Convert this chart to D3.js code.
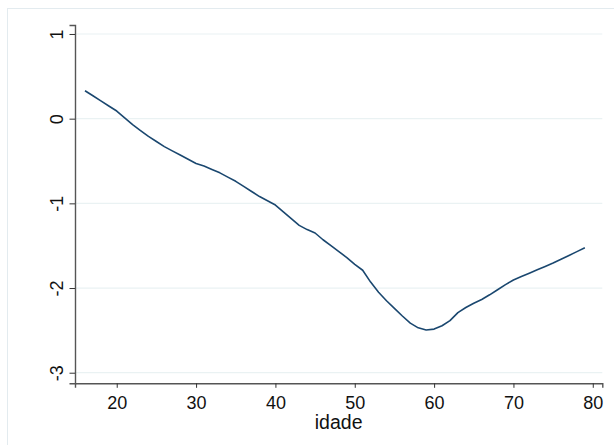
<!DOCTYPE html>
<html>
<head>
<meta charset="utf-8">
<script src="https://cdn.jsdelivr.net/npm/d3@7"></script>
<style>
  html, body { margin: 0; padding: 0; background: #fff; }
  svg { display: block; }
  text { font-family: "Liberation Sans", Arial, sans-serif; fill: #111; }
</style>
</head>
<body>
<svg id="chart" width="614" height="445"></svg>
<script>
const ages = [16,17,18,19,20,21,22,23,24,25,26,27,28,29,30,31,32,33,34,35,36,37,38,39,40,
  41,42,43,44,45,46,47,48,49,50,51,52,53,54,55,56,57,58,59,60,61,62,63,64,65,66,67,68,69,70,
  71,72,73,74,75,76,77,78,79];
const values = [0.33,0.27,0.21,0.15,0.09,0.01,-0.07,-0.14,-0.21,-0.27,-0.33,-0.38,-0.43,-0.48,-0.53,
  -0.56,-0.60,-0.64,-0.69,-0.74,-0.80,-0.86,-0.92,-0.97,-1.02,
  -1.10,-1.18,-1.26,-1.31,-1.35,-1.43,-1.50,-1.57,-1.64,-1.72,
  -1.79,-1.93,-2.05,-2.15,-2.24,-2.33,-2.415,-2.47,-2.495,-2.485,
  -2.445,-2.385,-2.29,-2.23,-2.18,-2.135,-2.08,-2.02,-1.96,-1.905,
  -1.865,-1.825,-1.785,-1.745,-1.705,-1.66,-1.615,-1.57,-1.525];
const xTicks = [20,30,40,50,60,70,80];
const yTicks = [-3,-2,-1,0,1];
const xTitle = "idade";

const svg = d3.select("#chart");

// outer frame
svg.append("rect").attr("x", 7.5).attr("y", 8.5).attr("width", 640).attr("height", 480)
  .attr("fill", "none").attr("stroke", "#e3ebef").attr("stroke-width", 1);

const mLeft = 75, mRight = 602.3, mTop = 25, mBottom = 383.3;
const x = d3.scaleLinear().domain([14.74, 81.2]).range([mLeft, mRight]);
const y = d3.scaleLinear().domain([-3.125, 1.106]).range([mBottom, mTop]);
const fmt = d => String(d);

// gridlines
svg.append("g").selectAll("line").data(yTicks).join("line")
  .attr("x1", mLeft).attr("x2", mRight)
  .attr("y1", d => y(d)).attr("y2", d => y(d))
  .attr("stroke", "#eaf2f3").attr("stroke-width", 1.2);

// x axis
const xAxis = svg.append("g").attr("transform", `translate(0,${mBottom})`)
  .call(d3.axisBottom(x).tickValues(xTicks).tickSize(4.5).tickPadding(8).tickFormat(fmt));
xAxis.select(".domain").attr("stroke", "#555").attr("stroke-width", 1.4);
xAxis.selectAll(".tick line").attr("stroke", "#333").attr("stroke-width", 1);
xAxis.selectAll(".tick text").attr("font-size", 18).attr("fill", "#111")
  .attr("font-family", "Liberation Sans, Arial, sans-serif");

// y axis
const yAxis = svg.append("g").attr("transform", `translate(${mLeft},0)`)
  .call(d3.axisLeft(y).tickValues(yTicks).tickSize(5.5).tickFormat(fmt));
yAxis.select(".domain").attr("stroke", "#555").attr("stroke-width", 1.4);
yAxis.selectAll(".tick line").attr("stroke", "#333").attr("stroke-width", 1);
yAxis.selectAll(".tick text")
  .attr("font-size", 18).attr("fill", "#111")
  .attr("font-family", "Liberation Sans, Arial, sans-serif")
  .attr("text-anchor", "middle").attr("dy", null).attr("x", null)
  .attr("transform", "translate(-12,0) rotate(-90)");

// x title
svg.append("text").attr("x", (mLeft + mRight) / 2).attr("y", 429.3)
  .attr("text-anchor", "middle").attr("font-size", 19.5).text(xTitle);

// line
const line = d3.line().x((d, i) => x(ages[i])).y(d => y(d));
svg.append("path").datum(values).attr("d", line)
  .attr("fill", "none").attr("stroke", "#1a476f").attr("stroke-width", 1.6)
  .attr("stroke-linejoin", "round");
</script>
</body>
</html>
